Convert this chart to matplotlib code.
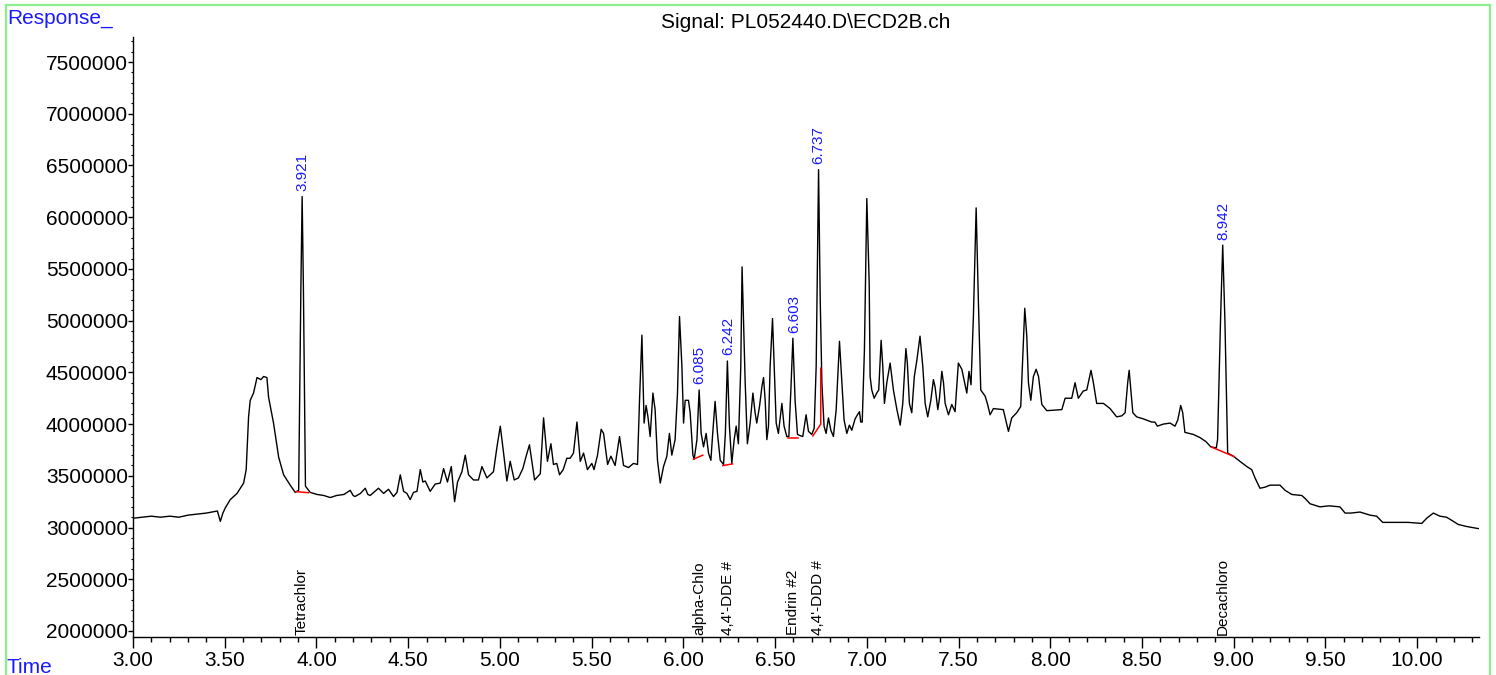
"""Recreate the ECD2B chromatogram (PL052440.D) with integration baselines."""
import matplotlib
matplotlib.use("Agg")
import matplotlib.pyplot as plt
from matplotlib.lines import Line2D
from matplotlib.ticker import MultipleLocator, FormatStrFormatter
import numpy as np

plt.rcParams["font.family"] = ["Liberation Sans", "DejaVu Sans"]

# trace: time (min), response (millions of counts)
time_min = [
    3.000, 3.050, 3.100, 3.150, 3.200, 3.250, 3.300, 3.350, 3.400, 3.460,
    3.476, 3.490, 3.503, 3.530, 3.567, 3.603, 3.617, 3.630, 3.639, 3.657,
    3.676, 3.697, 3.712, 3.730, 3.739, 3.766, 3.794, 3.821, 3.857, 3.884,
    3.903, 3.915, 3.922, 3.929, 3.940, 3.966, 4.003, 4.040, 4.075, 4.110,
    4.150, 4.184, 4.200, 4.210, 4.240, 4.266, 4.280, 4.293, 4.338, 4.366,
    4.393, 4.420, 4.439, 4.457, 4.475, 4.493, 4.511, 4.529, 4.548, 4.566,
    4.580, 4.593, 4.620, 4.647, 4.675, 4.693, 4.714, 4.735, 4.753, 4.769,
    4.793, 4.811, 4.829, 4.856, 4.883, 4.902, 4.929, 4.965, 4.984, 5.002,
    5.020, 5.038, 5.056, 5.078, 5.101, 5.125, 5.143, 5.161, 5.189, 5.220,
    5.238, 5.259, 5.278, 5.292, 5.310, 5.325, 5.345, 5.365, 5.383, 5.401,
    5.420, 5.438, 5.456, 5.477, 5.501, 5.513, 5.532, 5.552, 5.565, 5.587,
    5.605, 5.628, 5.652, 5.674, 5.701, 5.728, 5.750, 5.761, 5.774, 5.786,
    5.797, 5.807, 5.819, 5.834, 5.846, 5.859, 5.874, 5.892, 5.910, 5.924,
    5.937, 5.955, 5.968, 5.979, 5.992, 6.001, 6.010, 6.028, 6.037, 6.052,
    6.059, 6.074, 6.086, 6.097, 6.110, 6.124, 6.137, 6.150, 6.160, 6.173,
    6.186, 6.201, 6.219, 6.229, 6.240, 6.251, 6.264, 6.277, 6.288, 6.300,
    6.313, 6.320, 6.337, 6.349, 6.364, 6.379, 6.391, 6.400, 6.415, 6.428,
    6.437, 6.446, 6.455, 6.464, 6.473, 6.486, 6.495, 6.506, 6.518, 6.537,
    6.549, 6.564, 6.575, 6.586, 6.597, 6.609, 6.622, 6.635, 6.651, 6.669,
    6.682, 6.700, 6.713, 6.724, 6.737, 6.746, 6.755, 6.767, 6.778, 6.791,
    6.804, 6.818, 6.833, 6.851, 6.864, 6.876, 6.891, 6.905, 6.918, 6.936,
    6.949, 6.960, 6.967, 6.975, 6.987, 7.000, 7.013, 7.018, 7.027, 7.040,
    7.054, 7.065, 7.078, 7.087, 7.096, 7.109, 7.127, 7.145, 7.164, 7.182,
    7.196, 7.213, 7.221, 7.232, 7.245, 7.259, 7.273, 7.290, 7.305, 7.318,
    7.332, 7.349, 7.363, 7.372, 7.387, 7.396, 7.409, 7.418, 7.427, 7.445,
    7.463, 7.481, 7.499, 7.518, 7.530, 7.545, 7.557, 7.568, 7.581, 7.596,
    7.608, 7.621, 7.645, 7.657, 7.672, 7.690, 7.744, 7.772, 7.790, 7.817,
    7.839, 7.861, 7.872, 7.881, 7.894, 7.908, 7.923, 7.936, 7.954, 7.981,
    8.063, 8.081, 8.117, 8.135, 8.153, 8.180, 8.199, 8.222, 8.235, 8.253,
    8.290, 8.326, 8.362, 8.390, 8.408, 8.422, 8.430, 8.439, 8.450, 8.471,
    8.508, 8.553, 8.570, 8.584, 8.616, 8.653, 8.680, 8.695, 8.711, 8.722,
    8.734, 8.780, 8.816, 8.849, 8.875, 8.905, 8.912, 8.928, 8.940, 8.952,
    8.967, 8.998, 9.034, 9.071, 9.098, 9.116, 9.143, 9.170, 9.198, 9.252,
    9.280, 9.316, 9.371, 9.390, 9.416, 9.470, 9.520, 9.579, 9.607, 9.640,
    9.688, 9.743, 9.779, 9.812, 9.870, 9.950, 10.025, 10.052, 10.088, 10.124,
    10.160, 10.188, 10.224, 10.270, 10.333,
]
response_m = [
    3.09, 3.10, 3.11, 3.10, 3.11, 3.10, 3.12, 3.13, 3.14, 3.16,
    3.06, 3.14, 3.19, 3.27, 3.33, 3.43, 3.56, 4.07, 4.23, 4.30,
    4.45, 4.43, 4.46, 4.45, 4.26, 4.01, 3.68, 3.51, 3.41, 3.34,
    3.36, 5.30, 6.20, 5.30, 3.40, 3.34, 3.32, 3.31, 3.29, 3.31,
    3.32, 3.36, 3.31, 3.30, 3.33, 3.38, 3.32, 3.31, 3.38, 3.33,
    3.37, 3.30, 3.34, 3.51, 3.35, 3.33, 3.27, 3.34, 3.35, 3.56,
    3.44, 3.45, 3.35, 3.42, 3.43, 3.57, 3.44, 3.59, 3.25, 3.44,
    3.54, 3.70, 3.51, 3.46, 3.46, 3.59, 3.48, 3.54, 3.78, 3.98,
    3.72, 3.45, 3.64, 3.46, 3.48, 3.57, 3.69, 3.80, 3.46, 3.52,
    4.06, 3.64, 3.81, 3.61, 3.62, 3.51, 3.56, 3.67, 3.67, 3.72,
    4.02, 3.64, 3.72, 3.56, 3.62, 3.56, 3.70, 3.95, 3.91, 3.61,
    3.69, 3.60, 3.88, 3.60, 3.58, 3.62, 3.61, 4.23, 4.86, 4.01,
    4.18, 4.07, 3.88, 4.30, 4.14, 3.65, 3.43, 3.59, 3.69, 3.91,
    3.70, 3.85, 4.30, 5.04, 4.56, 4.01, 4.23, 4.23, 4.11, 3.70,
    3.66, 3.85, 4.33, 3.91, 3.78, 3.91, 3.72, 3.65, 3.91, 4.22,
    3.91, 3.65, 3.61, 3.91, 4.61, 3.98, 3.62, 3.85, 3.98, 3.81,
    4.56, 5.52, 4.40, 3.81, 4.01, 4.30, 4.11, 4.01, 4.17, 4.36,
    4.45, 4.23, 3.85, 3.98, 4.56, 5.02, 4.56, 4.01, 3.91, 4.20,
    3.98, 3.88, 3.88, 4.33, 4.83, 4.23, 3.90, 3.89, 3.88, 4.09,
    3.93, 3.90, 3.96, 4.56, 6.46, 5.20, 4.40, 3.98, 3.91, 4.06,
    3.94, 3.88, 4.14, 4.80, 4.40, 4.04, 3.91, 3.99, 3.94, 4.05,
    4.09, 4.12, 4.02, 4.02, 4.72, 6.18, 5.36, 4.46, 4.33, 4.25,
    4.30, 4.33, 4.81, 4.56, 4.20, 4.40, 4.59, 4.33, 4.14, 3.99,
    4.20, 4.73, 4.59, 4.20, 4.11, 4.46, 4.62, 4.85, 4.56, 4.20,
    4.07, 4.23, 4.43, 4.36, 4.14, 4.25, 4.51, 4.40, 4.20, 4.09,
    4.19, 4.12, 4.59, 4.53, 4.43, 4.30, 4.51, 4.38, 5.04, 6.09,
    5.20, 4.33, 4.27, 4.20, 4.09, 4.15, 4.14, 3.93, 4.06, 4.11,
    4.17, 5.12, 4.85, 4.40, 4.23, 4.46, 4.53, 4.46, 4.19, 4.13,
    4.14, 4.25, 4.25, 4.40, 4.25, 4.32, 4.33, 4.52, 4.40, 4.20,
    4.20, 4.15, 4.07, 4.08, 4.11, 4.40, 4.52, 4.33, 4.11, 4.07,
    4.05, 4.02, 4.02, 3.98, 4.00, 4.01, 3.98, 4.04, 4.18, 4.11,
    3.92, 3.90, 3.87, 3.83, 3.78, 3.77, 3.85, 5.00, 5.73, 5.00,
    3.72, 3.69, 3.64, 3.59, 3.56, 3.48, 3.38, 3.39, 3.41, 3.41,
    3.36, 3.32, 3.31, 3.28, 3.23, 3.20, 3.21, 3.20, 3.14, 3.14,
    3.15, 3.12, 3.11, 3.05, 3.05, 3.05, 3.04, 3.09, 3.14, 3.11,
    3.10, 3.07, 3.03, 3.01, 2.99,
]

# integrated peaks (blue labels) and their drawn baselines (red)
peak_rt = [3.921, 6.085, 6.242, 6.603, 6.737, 8.942]
baseline_t = [
    [3.888, 3.957],
    [6.055, 6.106],
    [6.215, 6.268],
    [6.573, 6.627],
    [6.706, 6.749, 6.749],
    [8.880, 9.002],
]
baseline_r = [
    [3.347, 3.337],
    [3.661, 3.700],
    [3.599, 3.615],
    [3.870, 3.870],
    [3.886, 4.000, 4.540],
    [3.777, 3.686],
]

# compound names at the foot of the plot
compound_names = ["Tetrachlor", "alpha-Chlo", "4,4'-DDE #", "Endrin #2",
                  "4,4'-DDD #", "Decachloro"]
compound_rt = [3.921, 6.088, 6.246, 6.597, 6.736, 8.940]

W, H = 1496, 675
fig = plt.figure(figsize=(W / 100, H / 100), dpi=100)
ax = fig.add_axes([133 / W, 1 - 637 / H, (1479 - 133) / W, 600 / H])

t = np.array(time_min)
r = np.array(response_m) * 1e6
ax.plot(t, r, color="black", lw=1.0)

for bt, br in zip(baseline_t, baseline_r):
    ax.plot(bt, np.array(br) * 1e6, color="red", lw=1.1)

for rt in peak_rt:
    near = np.abs(t - rt) < 0.02
    apex = r[near].max()
    ax.annotate(f"{rt:.3f}", (rt, apex), xytext=(0, 4), textcoords="offset points",
                rotation=90, ha="center", va="bottom", color="#1a1aff", fontsize=11)

for name, rt in zip(compound_names, compound_rt):
    ax.text(rt, 0.004, name, transform=ax.get_xaxis_transform(), rotation=90,
            ha="center", va="bottom", fontsize=11, color="black")

ax.set_xlim(3.0, 10.337)
ax.set_ylim(1.942e6, 7.742e6)
for s in ("top", "right"):
    ax.spines[s].set_visible(False)
ax.spines["left"].set_linewidth(1.0)
ax.spines["bottom"].set_linewidth(1.0)

ax.xaxis.set_major_locator(MultipleLocator(0.5))
ax.xaxis.set_minor_locator(MultipleLocator(0.1))
ax.xaxis.set_major_formatter(FormatStrFormatter("%.2f"))
ax.yaxis.set_major_locator(MultipleLocator(500000))
ax.yaxis.set_minor_locator(MultipleLocator(100000))
ax.yaxis.set_major_formatter(FormatStrFormatter("%d"))
ax.tick_params(axis="x", which="major", length=8, width=1, labelsize=15, pad=2)
ax.tick_params(axis="x", which="minor", length=3.6, width=1)
ax.tick_params(axis="y", which="major", length=3.6, width=1, labelsize=15, pad=0)
ax.tick_params(axis="y", which="minor", length=1.8, width=0.8)

fig.text(806 / W, 1 - 23 / H, "Signal: PL052440.D\\ECD2B.ch", ha="center",
         va="center", fontsize=15)
fig.text(7 / W, 1 - 19 / H, "Response_", ha="left", va="center", fontsize=15,
         color="#1a1aff")
fig.text(7 / W, 2 / H, "Time", ha="left", va="baseline", fontsize=15,
         color="#1a1aff")

# light green frame round the report page
green = "#8cf08c"
fig.add_artist(Line2D([6 / W, 1490 / W], [1 - 5 / H, 1 - 5 / H], color=green,
                      lw=1.6, transform=fig.transFigure))
fig.add_artist(Line2D([6 / W, 6 / W], [0, 1 - 5 / H], color=green, lw=1.6,
                      transform=fig.transFigure))
fig.add_artist(Line2D([1490 / W, 1490 / W], [0, 1 - 5 / H], color=green, lw=1.6,
                      transform=fig.transFigure))

fig.savefig("out.png", dpi=100)
